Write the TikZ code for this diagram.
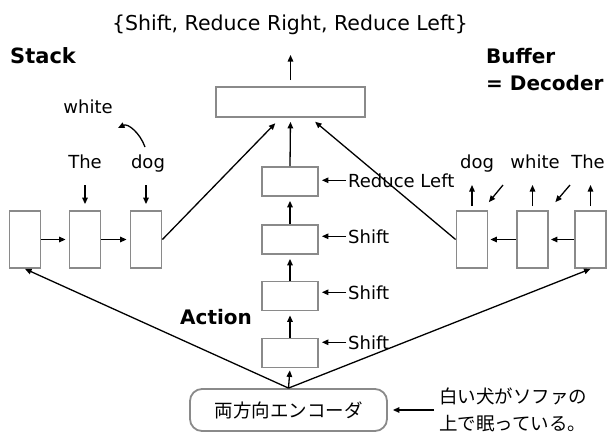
\documentclass[tikz,border=0pt]{standalone}
\usepackage{fontspec}
\setmainfont{DejaVu Sans}
\newfontfamily\jpfont{Noto Sans CJK JP}
\usetikzlibrary{arrows.meta}
\definecolor{boxgray}{RGB}{138,138,138}
\begin{document}
\begin{tikzpicture}[x=1pt,y=-1pt,
    cell/.style={draw=boxgray,line width=1.8pt,inner sep=0pt},
    vcell/.style={cell,minimum width=31pt,minimum height=57pt},
    hcell/.style={cell,minimum width=56pt,minimum height=29pt},
    arr/.style={-{Triangle[length=6.5pt,width=5.5pt]},line width=1.3pt},
    lbl/.style={font=\fontsize{18}{20}\selectfont,inner sep=2pt},
    hd/.style={font=\bfseries\fontsize{20}{23}\selectfont,inner sep=0pt,anchor=base west},
    jp/.style={font=\jpfont\fontsize{18.5}{21}\selectfont,inner sep=2pt}]
    \useasboundingbox (0,0) rectangle (608,432);
    \node[lbl,font=\fontsize{20.5}{23}\selectfont,anchor=base] (out) at (290,30) {\{Shift, Reduce Right, Reduce Left\}};
    \coordinate (outtip) at (290.5,55);
    \node[hd,font=\bfseries\fontsize{21}{23}\selectfont] (stack) at (10,63) {Stack};
    \node[hd] (buffer) at (486,63) {Buffer};
    \node[hd] (decoder) at (486,90) {= Decoder};
    \node[hd] (action) at (180,324) {Action};
    % action net
    \node[cell,minimum width=149pt,minimum height=30pt] (top) at (290.5,102) {};
    \foreach \n/\y in {rl/181.5,s1/239.5,s2/296,s3/353} \node[hcell] (\n) at (290,\y) {};
    \node[cell,rounded corners=12pt,minimum width=197pt,minimum height=42pt,jp] (enc) at (288.5,410) {両方向エンコーダ};
    \draw[arr,shorten <=6pt] (top.north) -- (outtip);
    \foreach \a/\b in {s3/s2,s2/s1,s1/rl,rl/top} \draw[arr,shorten >=4pt] (\a.north) -- (\b.south);
    \draw[arr,shorten >=2pt] (enc.north) -- (s3.south);
    \node[lbl,anchor=base west] (lrl) at (346,187) {Reduce Left};
    \foreach \n/\y/\b in {l1/243/s1,l2/299/s2,l3/349/s3} \node[lbl,anchor=base west] (\n) at (346,\y) {Shift};
    \foreach \l/\b in {lrl/rl,l1/s1,l2/s2,l3/s3} \draw[arr,shorten >=3pt] (\l.west) -- (\l.west -| \b.east);
    % stack
    \foreach \n/\x in {k1/25,k2/85,k3/146} \node[vcell] (\n) at (\x,239.5) {};
    \draw[arr,shorten >=3pt] (k1) -- (k2);
    \draw[arr,shorten >=3pt] (k2) -- (k3);
    \node[lbl,anchor=base] (wThe) at (85,168) {The};
    \node[lbl,anchor=base] (wdog) at (148,168) {dog};
    \node[lbl,anchor=base] (wwhite) at (88,113) {white};
    \foreach \w/\k in {wThe/k2,wdog/k3} \draw[arr,shorten <=17pt,shorten >=6pt] (\k.north |- \w.base) -- (\k.north);
    \draw[arr] ([xshift=-3pt,yshift=21pt]wdog.base) .. controls +(-5,-14) and +(10,-5) .. ([xshift=30pt,yshift=-15pt]wwhite.base);
    % buffer
    \foreach \n/\x in {f1/472,f2/532.5,f3/590.5} \node[vcell] (\n) at (\x,239.5) {};
    \draw[arr,shorten >=2pt] (f3) -- (f2);
    \draw[arr,shorten >=2pt] (f2) -- (f1);
    \node[lbl,anchor=base] (bdog) at (477,168) {dog};
    \node[lbl,anchor=base] (bwhite) at (535,168) {white};
    \node[lbl,anchor=base] (bThe) at (588,168) {The};
    \foreach \w/\k in {bdog/f1,bwhite/f2,bThe/f3} \draw[arr,shorten <=4pt,shorten >=17pt] (\k.north) -- (\k.north |- \w.base);
    \draw[arr] ([xshift=-32pt,yshift=-17pt]bwhite.base) -- ([xshift=0.5pt,yshift=8pt]f1.north east);
    \draw[arr] ([xshift=-18pt,yshift=-17pt]bThe.base) -- ([xshift=6.5pt,yshift=8pt]f2.north east);
    % into the action net
    \draw[arr,shorten >=7.5pt] (k3.east) -- ([xshift=-10pt]top.south);
    \draw[arr,shorten >=6pt] (f1.west) -- ([xshift=20pt]top.south);
    \draw[arr] (enc.north) -- (k1.south);
    \draw[arr] (enc.north) -- (f3.south);
    % input
    \node[jp,anchor=base west] (jp1) at (437,403) {白い犬がソファの};
    \node[jp,anchor=base west] (jp2) at (437,430) {上で眠っている。};
    \draw[arr,shorten <=3pt,shorten >=5pt] (jp1.west |- enc.east) -- (enc.east);
\end{tikzpicture}
\end{document}
